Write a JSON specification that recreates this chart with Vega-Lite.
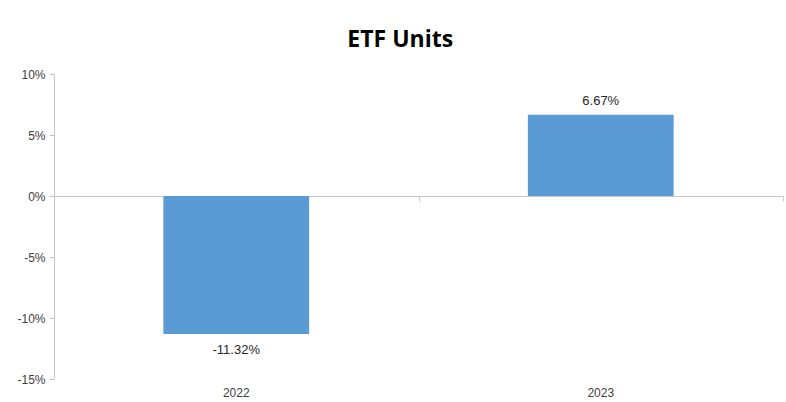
{
  "$schema": "https://vega.github.io/schema/vega-lite/v6.json",
  "width": 729,
  "height": 305,
  "autosize": {"type": "none"},
  "padding": {"left": 54, "top": 74, "right": 3, "bottom": 23},
  "background": "white",
  "config": {"view": {"stroke": null}},
  "title": {
    "text": "ETF Units",
    "font": "Open Sans",
    "fontSize": 23,
    "fontWeight": "bold",
    "color": "#000000",
    "anchor": "middle",
    "frame": "bounds",
    "offset": 16
  },
  "data": {"values": [
    {"year": "2022", "change": -11.32},
    {"year": "2023", "change": 6.67}
  ]},
  "layer": [
    {
      "mark": {"type": "bar", "color": "#5B9BD5", "width": {"band": 0.4}},
      "encoding": {
        "x": {"field": "year", "type": "nominal", "sort": null, "scale": {"paddingInner": 0, "paddingOuter": 0}, "axis": {
          "orient": "bottom", "title": null, "domain": false, "ticks": false, "labelAngle": 0,
          "labelFont": "Liberation Sans", "labelFontSize": 12, "labelColor": "#404040", "labelPadding": 8
        }},
        "y": {"field": "change", "type": "quantitative",
          "scale": {"domain": [-15, 10], "nice": false, "zero": false},
          "axis": {
            "title": null, "values": [-15, -10, -5, 0, 5, 10], "grid": false,
            "labelExpr": "datum.value + '%'",
            "labelFont": "Liberation Sans", "labelFontSize": 12, "labelColor": "#404040",
            "domainColor": "#c6c6c6", "tickColor": "#c6c6c6", "tickSize": 5, "labelPadding": 4
          }
        }
      }
    },
    {
      "transform": [{"filter": "datum.change >= 0"}, {"calculate": "datum.change + '%'", "as": "lbl"}],
      "mark": {"type": "text", "baseline": "bottom", "dy": -7, "font": "Liberation Sans", "fontSize": 13, "color": "#262626"},
      "encoding": {
        "x": {"field": "year", "type": "nominal", "sort": null, "axis": {
          "orient": "bottom", "title": null, "labels": false, "domain": true, "ticks": true, "tickBand": "extent",
          "offset": -183, "domainColor": "#c6c6c6", "tickColor": "#c6c6c6", "tickSize": 5
        }},
        "y": {"field": "change", "type": "quantitative"},
        "text": {"field": "lbl"}
      }
    },
    {
      "transform": [{"filter": "datum.change < 0"}, {"calculate": "datum.change + '%'", "as": "lbl"}],
      "mark": {"type": "text", "baseline": "top", "dy": 10, "font": "Liberation Sans", "fontSize": 13, "color": "#262626"},
      "encoding": {
        "x": {"field": "year", "type": "nominal", "sort": null, "axis": null},
        "y": {"field": "change", "type": "quantitative"},
        "text": {"field": "lbl"}
      }
    }
  ],
  "resolve": {"axis": {"x": "independent"}}
}
